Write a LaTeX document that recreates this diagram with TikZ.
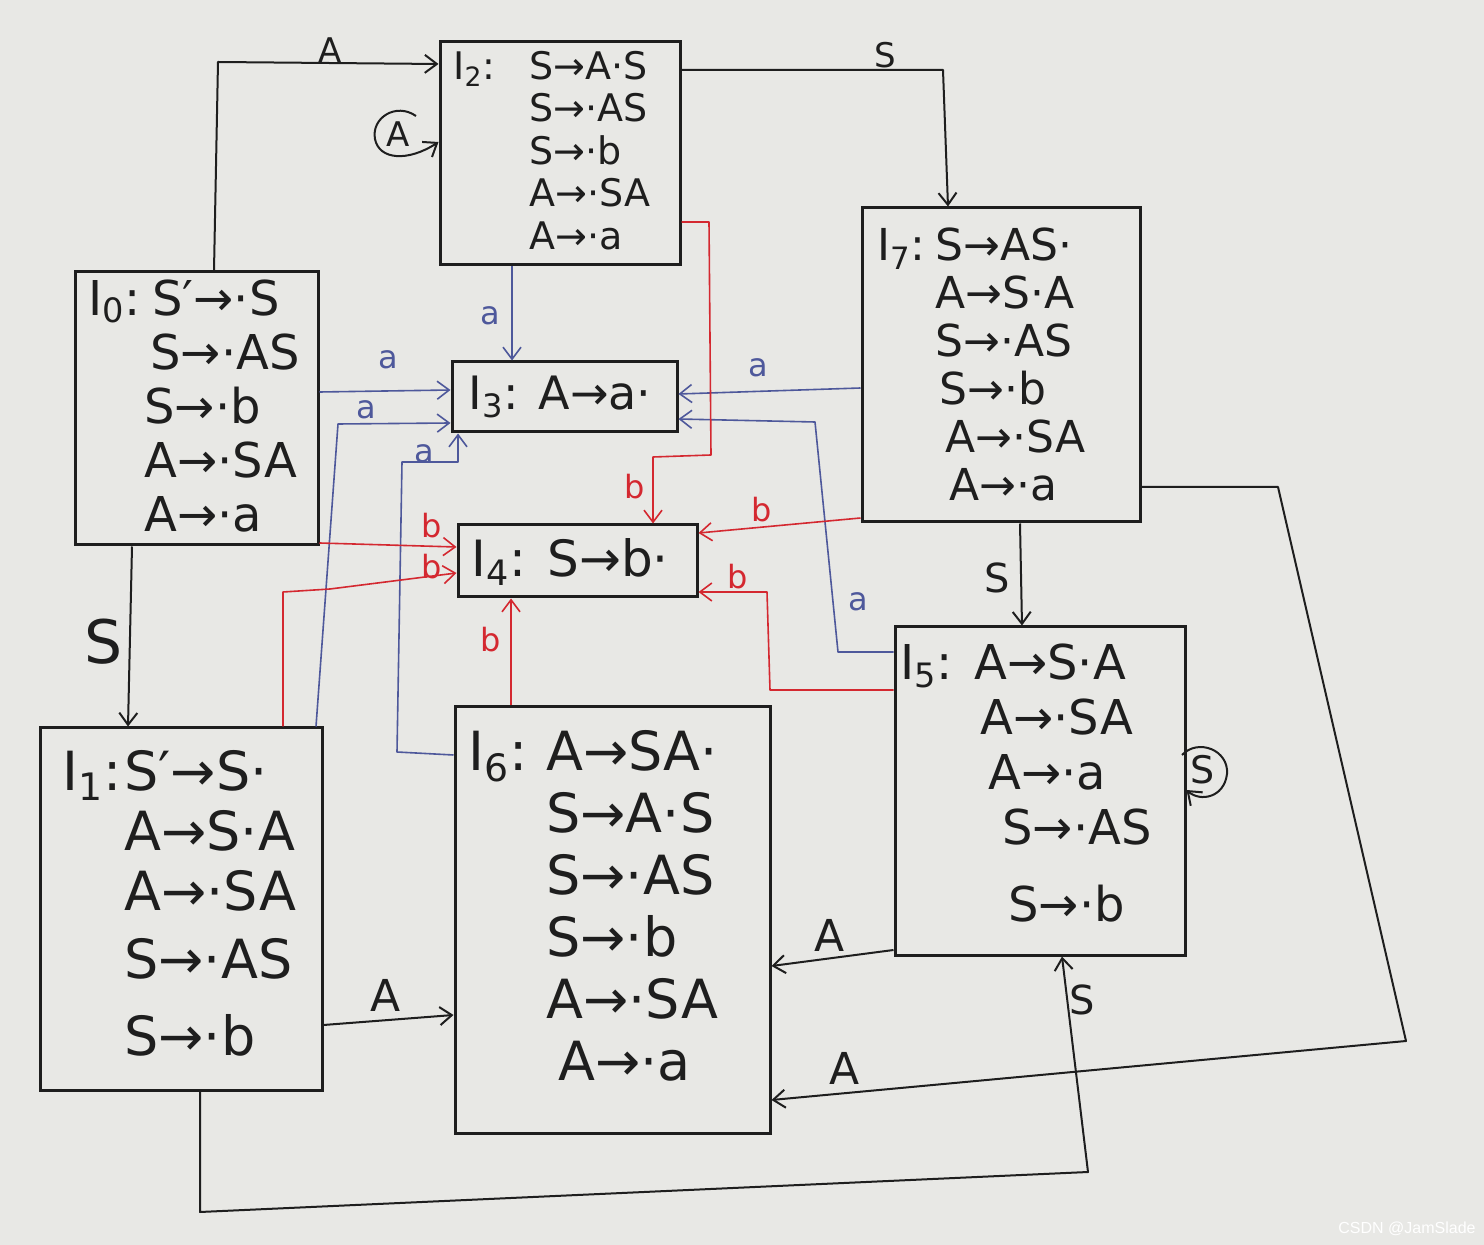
\documentclass[tikz,border=0pt]{standalone}
\usepackage{fontspec}
\setmainfont{DejaVu Sans}
\newfontfamily\wmfont{Liberation Sans}
\usetikzlibrary{arrows.meta,calc}
\definecolor{paper}{RGB}{232,232,229}
\definecolor{ink}{RGB}{30,30,30}
\definecolor{bink}{RGB}{78,88,155}
\definecolor{rink}{RGB}{212,40,48}
\begin{document}
\begin{tikzpicture}[x=0.5pt,y=-0.5pt,
  itembox/.style={draw=ink, line width=1.5pt, inner sep=0pt},
  items/.style={inner sep=0pt, anchor=north west, text=ink},
  con/.style={draw=ink, line width=1pt, line join=round, -{Straight Barb[length=6pt,width=9pt]}},
  bcon/.style={con, draw=bink, line width=0.8pt},
  rcon/.style={con, draw=rink, line width=0.8pt},
  lbl/.style={text=ink, inner sep=1pt},
  blbl/.style={lbl, text=bink, font=\fontsize{16}{18}\selectfont},
  rlbl/.style={lbl, text=rink, font=\fontsize{16}{18}\selectfont}]
\fill[paper] (0,0) rectangle (1484,1245);
\useasboundingbox (0,0) rectangle (1484,1245);

% ---------- boxes ----------
\node[itembox, minimum width=120pt, minimum height=111.5pt] (I2) at (560,153.5) {};
\node[itembox, minimum width=139pt, minimum height=157pt] (I7) at (1001,365) {};
\node[itembox, minimum width=121.5pt, minimum height=136.5pt] (I0) at (196.5,408.5) {};
\node[itembox, minimum width=112.5pt, minimum height=35pt] (I3) at (564.5,397) {};
\node[itembox, minimum width=119.5pt, minimum height=36pt] (I4) at (577.5,561) {};
\node[itembox, minimum width=145pt, minimum height=164pt] (I5) at (1040,791) {};
\node[itembox, minimum width=141pt, minimum height=181pt] (I1) at (181,909) {};
\node[itembox, minimum width=157.5pt, minimum height=213pt] (I6) at (612.5,920) {};

% ---------- item texts ----------
\node[items, font=\fontsize{19}{21.25}\selectfont] (I2t) at (453,49) {%
\begin{tabular}{@{}p{38pt}@{}l@{}}
I\textsubscript{2}: & S→A·S\\ & S→·AS\\ & S→·b\\ & A→·SA\\ & A→·a
\end{tabular}};

\node[items, font=\fontsize{22}{24}\selectfont] (I7t) at (877,227) {%
\begin{tabular}{@{}p{29pt}@{}l@{}}
I\textsubscript{7}: & S→AS·\\ & A→S·A\\ & S→·AS\\ & \hspace{2pt}S→·b\\ & \hspace{5pt}A→·SA\\ & \hspace{7pt}A→·a
\end{tabular}};

\node[items, font=\fontsize{24}{27}\selectfont] (I0t) at (88,277) {%
\begin{tabular}{@{}p{28pt}@{}l@{}}
I\textsubscript{0}: & \hspace{4pt}S′→·S\\ & \hspace{3pt}S→·AS\\ & S→·b\\ & A→·SA\\ & A→·a
\end{tabular}};

\node[lbl, font=\fontsize{23}{26}\selectfont] (I3t) at (560,397) {I\textsubscript{3}: A→a·};
\node[lbl, font=\fontsize{25}{28}\selectfont] (I4t) at (570,562) {I\textsubscript{4}: S→b·};

\node[items, font=\fontsize{24}{27.5}\selectfont] (I5t) at (900,641) {%
\begin{tabular}{@{}p{37pt}@{}l@{}}
I\textsubscript{5}: & A→S·A\\ & \hspace{3pt}A→·SA\\ & \hspace{7pt}A→·a\\ & \hspace{14pt}S→·AS\\[11pt] & \hspace{17pt}S→·b
\end{tabular}};

\node[items, font=\fontsize{27}{30}\selectfont] (I1t) at (62,748) {%
\begin{tabular}{@{}p{31pt}@{}l@{}}
I\textsubscript{1}: & S′→S·\\ & A→S·A\\ & A→·SA\\[4pt] & S→·AS\\[8.5pt] & S→·b
\end{tabular}};

\node[items, font=\fontsize{27}{31}\selectfont] (I6t) at (468,727) {%
\begin{tabular}{@{}p{39pt}@{}l@{}}
I\textsubscript{6}: & A→SA·\\ & S→A·S\\ & S→·AS\\ & S→·b\\ & A→·SA\\ & \hspace{6pt}A→·a
\end{tabular}};

% ---------- black connectors ----------
\draw[con] (I0.north -| 214,0) -- (218,62) -- (I2.west |- 0,64);
\node[lbl, font=\fontsize{17}{20}\selectfont] (lA02) at (330,50) {A};

\node[lbl, font=\fontsize{17}{20}\selectfont] (lA22) at (398,134) {A};
\draw[con] (416,116) .. controls (396,102) and (371,118) .. (375,139)
  .. controls (379,160) and (408,162) .. (I2.west |- 0,142);

\draw[con] (I2.east |- 0,70) -- (943,70) -- (I7.north -| 948,0);
\node[lbl, font=\fontsize{17}{20}\selectfont] (lS27) at (885,55) {S};

\draw[con] (I0.south -| 132,0) -- (I1.north -| 128,0);
\node[lbl, font=\fontsize{30}{34}\selectfont] (lS01) at (104,642) {S};

\draw[con] (I7.south -| 1020,0) -- (I5.north -| 1022,0);
\node[lbl, font=\fontsize{20}{24}\selectfont] (lS75) at (997,578) {S};

\node[lbl, font=\fontsize{19}{22}\selectfont] (lS55) at (1203,770) {S};
\draw[con] (1182,755) .. controls (1198,738) and (1229,750) .. (1227,774)
  .. controls (1224,798) and (1200,802) .. (I5.east |- 0,790);

\draw[con] (I5.west |- 0,950) -- (I6.east |- 0,966);
\node[lbl, font=\fontsize{22}{26}\selectfont] (lA56) at (830,935) {A};

\draw[con] (I1.east |- 0,1025) -- (I6.west |- 0,1015);
\node[lbl, font=\fontsize{22}{26}\selectfont] (lA16) at (386,995) {A};

\draw[con] (I7.east |- 0,487) -- (1278,487) -- (1406,1041) -- (I6.east |- 0,1100);
\node[lbl, font=\fontsize{22}{26}\selectfont] (lA76) at (845,1068) {A};

\draw[con] (I1.south -| 200,0) -- (200,1212) -- (1088,1172) -- (I5.south -| 1062,0);
\node[lbl, font=\fontsize{20}{24}\selectfont] (lS15) at (1082,1000) {S};

% ---------- blue connectors (a) ----------
\draw[bcon] (I2.south -| 512,0) -- (I3.north -| 512,0);
\node[blbl] (la23) at (490,316) {a};

\draw[bcon] (I0.east |- 0,392) -- (I3.west |- 0,390);
\node[blbl] (la03) at (388,360) {a};

\draw[bcon] (I1.north -| 316,0) -- (338,424) -- (I3.west |- 0,423);
\node[blbl] (la13) at (366,410) {a};

\draw[bcon] (I6.west |- 0,755) -- (397,752) -- (402,462) -- (458,462) -- (I3.south -| 458,0);
\node[blbl] (la63) at (424,454) {a};

\draw[bcon] (I7.west |- 0,388) -- (I3.east |- 0,394);
\node[blbl] (la73) at (758,368) {a};

\draw[bcon] (I5.west |- 0,652) -- (838,652) -- (815,422) -- (I3.east |- 0,419);
\node[blbl] (la53) at (858,602) {a};

% ---------- red connectors (b) ----------
\draw[rcon] (I2.east |- 0,222) -- (709,222) -- (711,455) -- (653,457) -- (I4.north -| 653,0);
\node[rlbl] (lb24) at (635,487) {b};

\draw[rcon] (I0.east |- 0,543) -- (I4.west |- 0,547);
\node[rlbl] (lb04) at (432,526) {b};

\draw[rcon] (I1.north -| 283,0) -- (283,592) -- (330,589) -- (I4.west |- 0,573);
\node[rlbl] (lb14) at (432,567) {b};

\draw[rcon] (I6.north -| 511,0) -- (I4.south -| 511,0);
\node[rlbl] (lb64) at (491,640) {b};

\draw[rcon] (I7.west |- 0,518) -- (I4.east |- 0,533);
\node[rlbl] (lb74) at (762,510) {b};

\draw[rcon] (I5.west |- 0,690) -- (770,690) -- (767,592) -- (I4.east |- 0,592);
\node[rlbl] (lb54) at (738,577) {b};

% ---------- watermark ----------
\node[inner sep=0pt, anchor=south east, text=white, font=\wmfont\fontsize{8}{9}\selectfont] (wm) at (1476,1236) {CSDN @JamSlade};
\end{tikzpicture}
\end{document}
